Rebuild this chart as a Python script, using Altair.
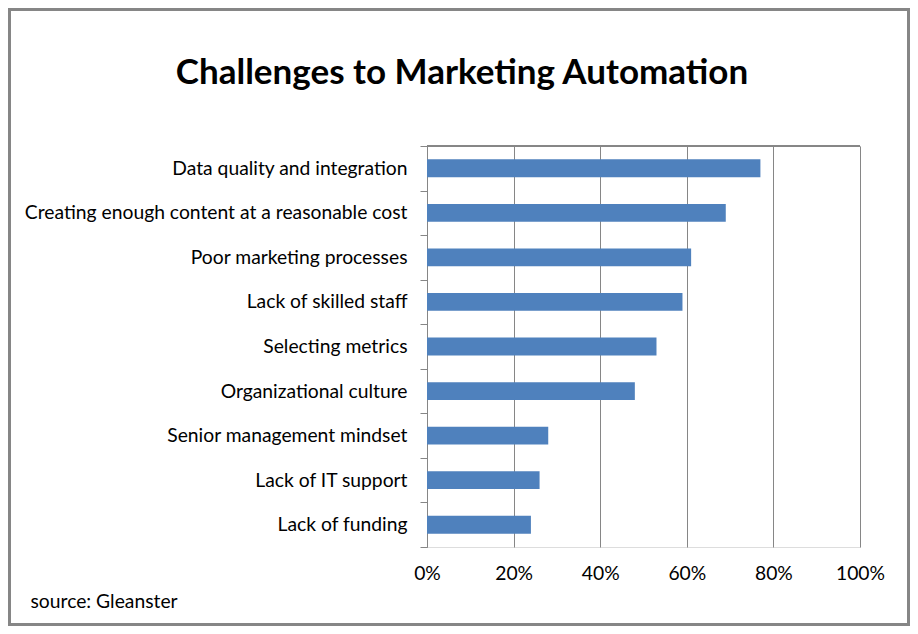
import altair as alt
import pandas as pd

categories = [
    "Data quality and integration",
    "Creating enough content at a reasonable cost",
    "Poor marketing processes",
    "Lack of skilled staff",
    "Selecting metrics",
    "Organizational culture",
    "Senior management mindset",
    "Lack of IT support",
    "Lack of funding",
]
values = [0.77, 0.69, 0.61, 0.59, 0.53, 0.48, 0.28, 0.26, 0.24]
x_ticks = [0, 0.2, 0.4, 0.6, 0.8, 1.0]
title_text = "Challenges to Marketing Automation"
source_text = "source: Gleanster"

df = pd.DataFrame({"challenge": categories, "share": values})

FONT = "Lato"
GRAY = "#868686"
W, H = 433, 401
FS = 19.3

bars = alt.Chart(df).mark_bar(color="#4F81BD", height=alt.RelativeBandSize(0.4)).encode(
    x=alt.X(
        "share:Q",
        scale=alt.Scale(domain=[0, 1]),
        axis=alt.Axis(
            values=x_ticks,
            format=".0%",
            grid=True,
            gridColor=GRAY,
            gridOpacity=1,
            domain=False,
            ticks=False,
            labelFlush=False,
            labelFont=FONT,
            labelFontSize=FS,
            labelColor="black",
            labelPadding=17,
            title=source_text,
            titleFont=FONT,
            titleFontSize=FS,
            titleFontWeight="normal",
            titleColor="black",
            titleAlign="left",
            titleBaseline="middle",
            titleX=-397,
            titleY=54,
        ),
    ),
    y=alt.Y(
        "challenge:N",
        sort=categories,
        scale=alt.Scale(paddingInner=0, paddingOuter=0),
        axis=alt.Axis(
            title=None,
            domain=True,
            domainColor=GRAY,
            ticks=True,
            tickBand="extent",
            tickColor=GRAY,
            tickSize=7,
            labelFont=FONT,
            labelFontSize=FS,
            labelColor="black",
            labelPadding=13,
            labelLimit=500,
        ),
    ),
)

top_line = alt.Chart(df).mark_rule(color=GRAY, strokeWidth=1).encode(
    x=alt.value(0), x2=alt.value(W), y=alt.value(0)
)

title = alt.Chart(pd.DataFrame({"t": [title_text]})).mark_text(
    font=FONT, fontSize=35, fontWeight="bold", color="black",
    align="center", baseline="middle",
).encode(text="t:N", x=alt.value(35), y=alt.value(-73))

border = alt.Chart(df).mark_rect(
    fill=None, stroke=GRAY, strokeWidth=3, clip=False
).encode(
    x=alt.value(-418), x2=alt.value(W + 49), y=alt.value(-137), y2=alt.value(H + 78)
)

chart = (
    alt.layer(bars, top_line, title, border)
    .properties(
        width=W,
        height=H,
        autosize=alt.AutoSizeParams(type="none"),
        padding={"left": 419, "top": 138, "right": 50, "bottom": 79},
    )
    .configure_view(stroke=None)
    .configure(background="white")
)

chart.save("out.html", embed_options={"renderer": "svg", "actions": False})
